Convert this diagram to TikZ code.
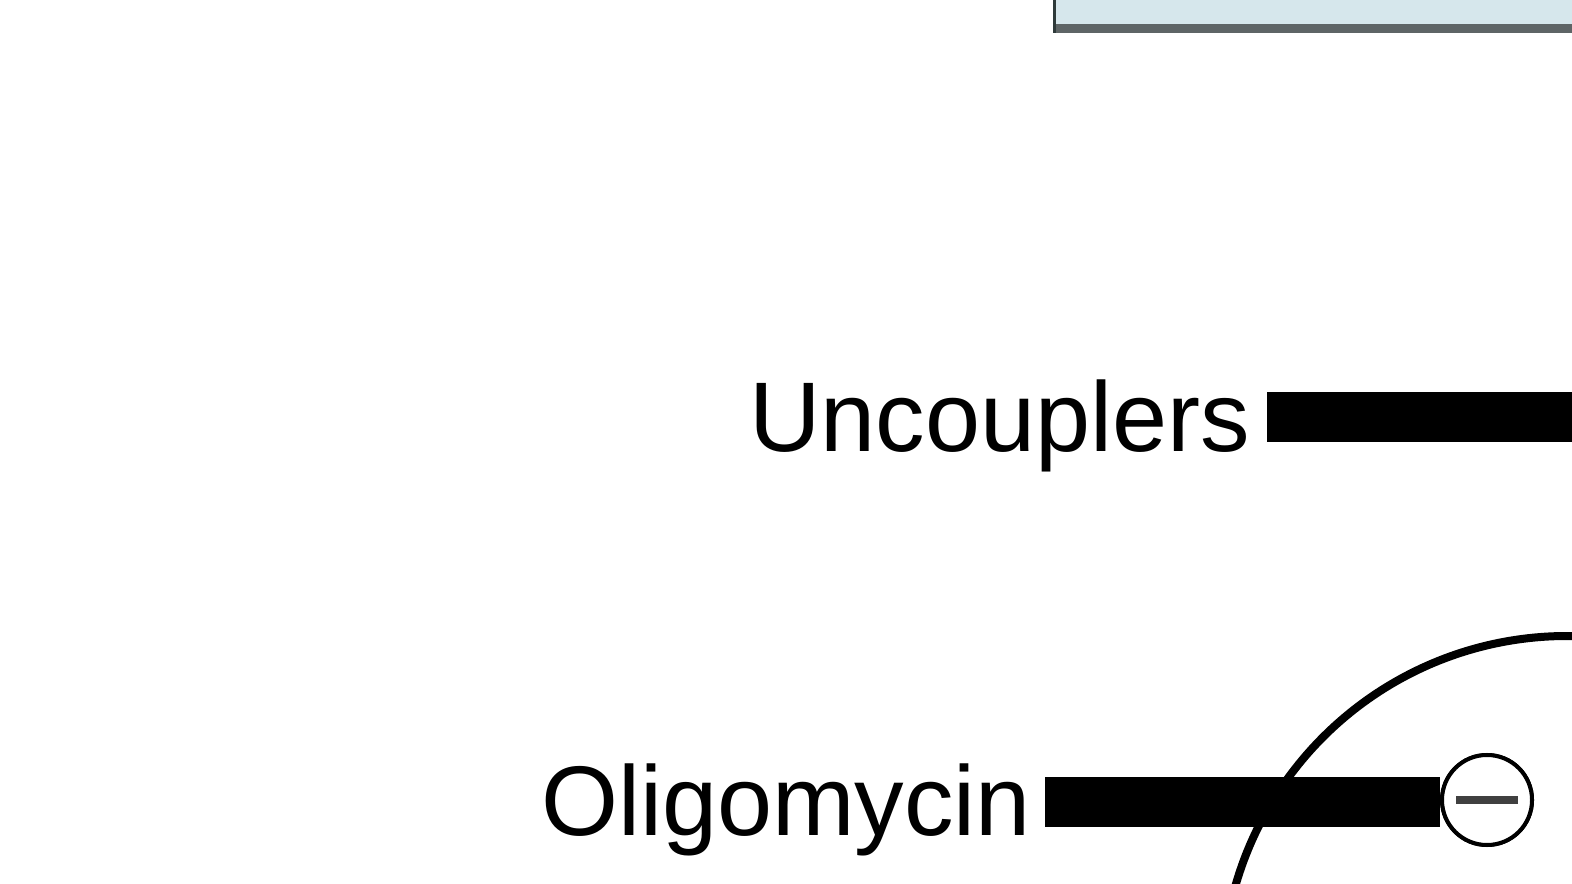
\documentclass[tikz,border=0pt]{standalone}
\usepackage{fontspec}
\setmainfont{Liberation Sans}
\definecolor{boxfill}{HTML}{D6E7EC}
\definecolor{boxedge}{HTML}{5E6566}
\definecolor{boxleft}{HTML}{2E3A3A}
\definecolor{minusc}{HTML}{404040}
\tikzset{
  lbl/.style={anchor=base west, inner sep=0pt, font=\fontsize{49.5}{56}\selectfont},
  bar/.style={line width=25pt, black},
  inhib/.style={circle, draw=black, line width=2pt, fill=white, minimum size=45pt, inner sep=0pt},
  arcline/.style={line width=4pt, black}
}
\begin{document}
\begin{tikzpicture}[x=0.5pt,y=0.5pt]
\useasboundingbox (0,0) rectangle (1572,883);
\clip (0,0) rectangle (1572,883);
\fill[white] (0,0) rectangle (1572,883);
% top box
\fill[boxfill] (1053,850) rectangle (1590,900);
\draw[boxedge, line width=4.5pt] (1053,854.5) -- (1590,854.5);
\draw[boxleft, line width=1.5pt] (1054,850) -- (1054,900);
% labels
\node[lbl] (unc) at (749,431) {Uncouplers};
\node[lbl] (olig) at (541,48) {Oligomycin};
% arc
\draw[arcline] (1567,-98) ++(172:345) arc[start angle=172, end angle=75, radius=345];
% bars
\coordinate (ubarL) at (1267,466);
\coordinate (ubarR) at (1590,466);
\draw[bar] (ubarL) -- (ubarR);
\node[inhib] (inh) at (1487,83) {};
\coordinate (obarL) at (1045,81.5);
\draw[bar] (obarL) -- (obarL -| inh.west);
\node[inhib] at (inh.center) {};
\draw[minusc, line width=4pt] ([xshift=-15.5pt]inh.center) -- ([xshift=15.5pt]inh.center);
\end{tikzpicture}
\end{document}
